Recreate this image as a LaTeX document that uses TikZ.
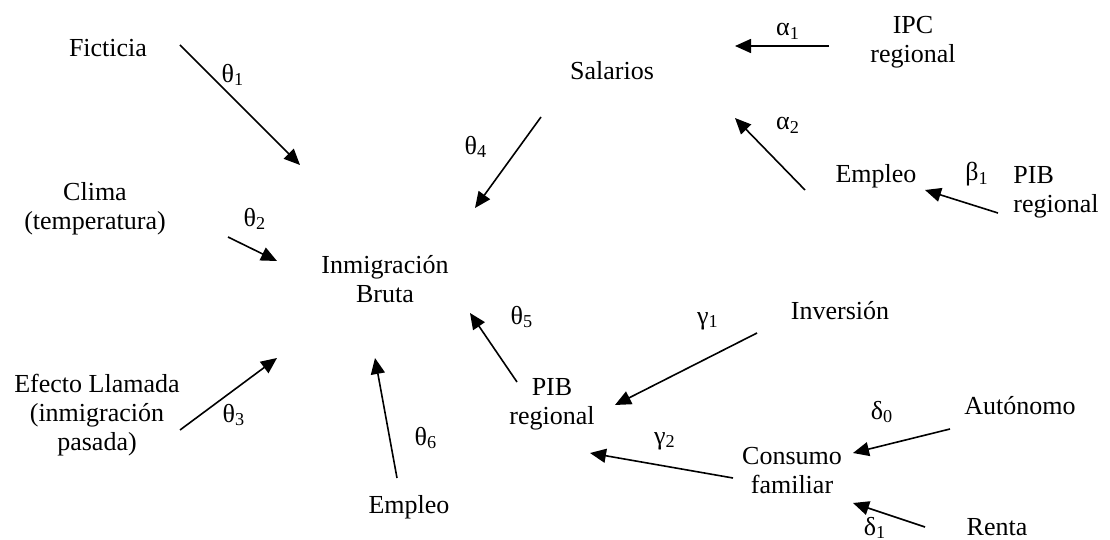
\documentclass[tikz,border=0pt]{standalone}
\usepackage{fontspec}
\setmainfont{Liberation Serif}
\usetikzlibrary{arrows.meta,calc}

\begin{document}
\begin{tikzpicture}[x=0.5pt, y=-0.5pt, varnode/.style={align=center, inner sep=0pt, font=\fontsize{13}{14.5}\selectfont}, coef/.style={inner sep=0pt, font=\fontsize{13}{14.5}\selectfont}, effect/.style={-{Triangle[length=8pt,width=7pt]}, line width=0.8pt}]

\useasboundingbox (0,0) rectangle (1110,540);

% VARIABLES (base = last line)

\node [varnode, anchor=base] (ficticia) at (108,57) {Ficticia};
\node [varnode, anchor=base] (clima) at (95,230) {Clima\\(temperatura)};
\node [varnode, anchor=base] (llamada) at (97,450) {Efecto Llamada\\(inmigración\\pasada)};
\node [varnode, anchor=base] (inmig) at (385,302) {Inmigración\\Bruta};
\node [varnode, anchor=base] (empleob) at (409,513) {Empleo};
\node [varnode, anchor=base] (salarios) at (612,80) {Salarios};
\node [varnode, anchor=base] (ipc) at (913,63) {IPC\\regional};
\node [varnode, anchor=base] (empleor) at (876,183) {Empleo};
\node [varnode, align=left, anchor=base west] (pibr) at (1013,213) {PIB\\regional};
\node [varnode, anchor=base] (pibm) at (552,424) {PIB\\regional};
\node [varnode, anchor=base] (inversion) at (840,320) {Inversión};
\node [varnode, anchor=base] (consumo) at (792,493) {Consumo\\familiar};
\node [varnode, anchor=base] (autonomo) at (1020,415) {Autónomo};
\node [varnode, anchor=base] (renta) at (997,535) {Renta};

% COEFFICIENTS

\node [coef] (th1) at (233,75) {θ\textsubscript{1}};
\node [coef] (th2) at (255,219) {θ\textsubscript{2}};
\node [coef] (th3) at (234,415) {θ\textsubscript{3}};
\node [coef] (th4) at (476,147) {θ\textsubscript{4}};
\node [coef] (th5) at (522,317) {θ\textsubscript{5}};
\node [coef] (th6) at (426,438) {θ\textsubscript{6}};
\node [coef] (al1) at (788,31) {α\textsubscript{1}};
\node [coef] (al2) at (788,125) {α\textsubscript{2}};
\node [coef] (be1) at (977,174) {β\textsubscript{1}};
\node [coef] (ga1) at (708,321) {γ\textsubscript{1}};
\node [coef] (ga2) at (665,441) {γ\textsubscript{2}};
\node [coef] (de0) at (882,412) {δ\textsubscript{0}};
\node [coef] (de1) at (875,528) {δ\textsubscript{1}};

% EFFECTS

\draw[effect] ($(ficticia.base) + (72,-12)$) -- ($(inmig.base) + (-85,-137)$);
\draw[effect] ($(clima.base) + (133,7)$) -- ($(inmig.base) + (-108,-41)$);
\draw[effect] ($(llamada.base) + (83,-20)$) -- ($(inmig.base) + (-108,56)$);
\draw[effect] ($(salarios.base) + (-71,37)$) -- ($(inmig.base) + (90,-94)$);
\draw[effect] ($(pibm.base) + (-35,-42)$) -- ($(inmig.base) + (85,11)$);
\draw[effect] ($(empleob.base) + (-12,-35)$) -- ($(inmig.base) + (-10,56)$);

\draw[effect] ($(ipc.base) + (-84,-17)$) -- ($(salarios.base) + (123,-34)$);
\draw[effect] ($(empleor.base) + (-71,7)$) -- ($(salarios.base) + (123,38)$);
\draw[effect] ($(pibr.base west) + (-15,0)$) -- ($(empleor.base) + (49,7)$);

\draw[effect] ($(inversion.base) + (-83,13)$) -- ($(pibm.base) + (63,-19)$);
\draw[effect] ($(consumo.base) + (-59,-15)$) -- ($(pibm.base) + (38,29)$);
\draw[effect] ($(autonomo.base) + (-70,14)$) -- ($(consumo.base) + (61,-40)$);
\draw[effect] ($(renta.base) + (-72,-8)$) -- ($(consumo.base) + (61,10)$);

\end{tikzpicture}
\end{document}
